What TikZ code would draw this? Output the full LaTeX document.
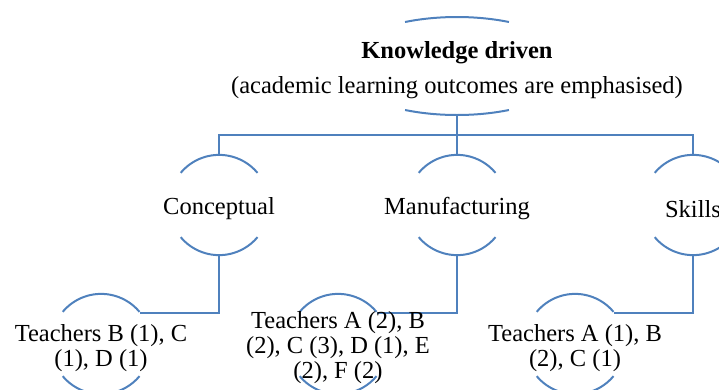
\documentclass[tikz,border=0pt]{standalone}
\usepackage{fontspec}
\setmainfont{Liberation Serif}
\usepackage{tikz}
\usetikzlibrary{shapes.geometric,positioning}
\definecolor{hierblue}{RGB}{79,129,189}
\tikzset{
  hier/.style={draw=hierblue, line width=2pt},
  ring/.style={circle, minimum size=100pt, inner sep=0pt, outer sep=0pt},
  txt/.style={font=\fontsize{24.5}{25}\selectfont, align=center, inner sep=0pt, yshift=-4pt},
}

\begin{document}
\begin{tikzpicture}[x=1pt,y=1pt]
	\clip (0,0) rectangle (719,-389);
	% top of the hierarchy
	\node [ellipse, minimum width=236pt, minimum height=98pt, inner sep=0pt, outer sep=0pt] (root) at (457,-66) {};
	\node [txt] (root-txt) at (root) {\textbf{Knowledge driven}\\[10pt](academic learning outcomes are emphasised)};
	% second row
	\node [ring] (conc) at (219,-205) {};
	\node [ring, right=138pt of conc] (manu) {};
	\node [ring, right=136pt of manu] (skil) {};
	% teachers
	\node [ring] (leafa) at (101,-344) {};
	\node [ring] (leafb) at (338,-344) {};
	\node [ring] (leafc) at (575,-344) {};
	% the arcs round each text
	\draw [hier] ([shift={(116.1:118pt and 49pt)}]root.center) arc [start angle=116.1, end angle=63.9, x radius=118pt, y radius=49pt];
	\draw [hier] ([shift={(-116.1:118pt and 49pt)}]root.center) arc [start angle=-116.1, end angle=-63.9, x radius=118pt, y radius=49pt];
	\foreach \n in {conc,manu,skil,leafa,leafb,leafc} {
		\draw [hier] (\n.140.2) arc [start angle=140.2, end angle=39.8, radius=50pt];
		\draw [hier] (\n.-140.2) arc [start angle=-140.2, end angle=-39.8, radius=50pt];
	}
	% connectors
	\coordinate [below=20pt of root.south] (bus);
	\draw [hier] (root.south) -- (bus);
	\draw [hier] (conc.north) |- (bus) -| (skil.north);
	\draw [hier] (bus) -- (manu.north);
	\draw [hier] (conc.south) |- (leafa.39.8);
	\draw [hier] (manu.south) |- (leafb.39.8);
	\draw [hier] (skil.south) |- (leafc.39.8);
	% texts
	\node [txt] (conc-txt) at (conc) {Conceptual};
	\node [txt] (manu-txt) at (manu) {Manufacturing};
	\node [txt] (skil-txt) at (skil) {Skills};
	\node [txt] (leafa-txt) at (leafa) {Teachers B (1), C\\(1), D (1)};
	\node [txt] (leafb-txt) at (leafb) {Teachers A (2), B\\(2), C (3), D (1), E\\(2), F (2)};
	\node [txt] (leafc-txt) at (leafc) {Teachers A (1), B\\(2), C (1)};
\end{tikzpicture}
\end{document}
